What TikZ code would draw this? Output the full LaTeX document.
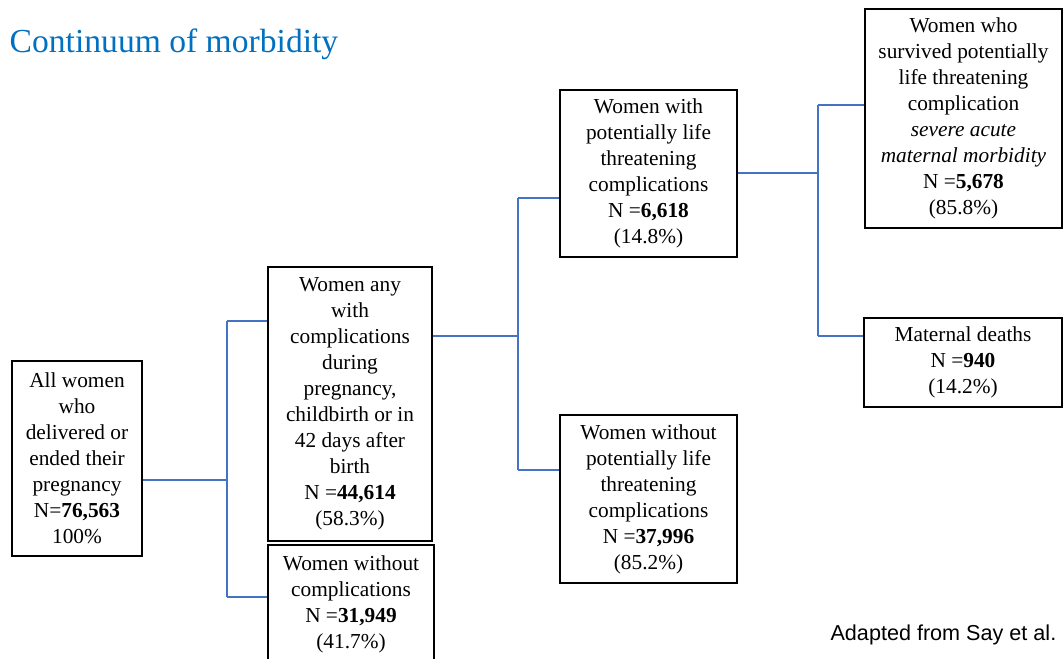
\documentclass[tikz,border=0pt]{standalone}
\usepackage{fontspec}
\setmainfont{Liberation Serif}
\newfontfamily\arialfont{Liberation Sans}
\usepackage{tikz}

\definecolor{linkblue}{RGB}{68,114,196}
\definecolor{titleblue}{RGB}{0,112,192}

\tikzset{
  box/.style={draw, line width=1.5pt, inner sep=0pt, align=center,
    font=\fontsize{16}{19.5}\selectfont},
  link/.style={linkblue, line width=1.7pt}
}

\begin{document}
\begin{tikzpicture}[x=0.75pt, y=-0.75pt]
        \useasboundingbox (0,0) rectangle (1063,658);
        \clip (0,0) rectangle (1063,658);

        % Titulo
        \node[titleblue, anchor=base west, font=\fontsize{25.2}{30}\selectfont] (title) at (5,52) {Continuum of morbidity};

        % Cajas
        \node[box, minimum width=97.5pt, minimum height=146.25pt] (all) at (77,458.5)
          {All women\\who\\delivered or\\ended their\\pregnancy\\N=\textbf{76,563}\\100\%};

        \node[box, minimum width=123pt, minimum height=205.5pt] (comp) at (350,404)
          {Women any\\with\\complications\\during\\pregnancy,\\childbirth or in\\42 days after\\birth\\N =\textbf{44,614}\\(58.3\%)};

        \node[box, minimum width=124.5pt, minimum height=88.5pt] (nocomp) at (351,604)
          {Women without\\complications\\N =\textbf{31,949}\\(41.7\%)};

        \node[box, minimum width=132.75pt, minimum height=125.25pt] (plt) at (648.5,173.5)
          {Women with\\potentially life\\threatening\\complications\\N =\textbf{6,618}\\(14.8\%)};

        \node[box, minimum width=132.75pt, minimum height=126pt] (noplt) at (648.5,499)
          {Women without\\potentially life\\threatening\\complications\\N =\textbf{37,996}\\(85.2\%)};

        \node[box, minimum width=147.75pt, minimum height=164.25pt] (sam) at (963.5,118.5)
          {Women who\\survived potentially\\life threatening\\complication\\\textit{severe acute}\\\textit{maternal morbidity}\\N =\textbf{5,678}\\(85.8\%)};

        \node[box, minimum width=148.5pt, minimum height=66.75pt] (death) at (963,362.5)
          {Maternal deaths\\N =\textbf{940}\\(14.2\%)};

        % Puntos de ramificacion
        \coordinate (s1) at (227,480);
        \coordinate (b1) at (227,321);
        \coordinate (c1) at (227,597);
        \coordinate (s2) at (518,336);
        \coordinate (b2) at (518,198);
        \coordinate (c2) at (518,470);
        \coordinate (s3) at (818,173);
        \coordinate (b3) at (818,105);
        \coordinate (c3) at (818,336);

        % Conectores
        \draw[link] (s1 -| all.east) -- (s1);
        \draw[link] (b1) -- (c1);
        \draw[link] (b1) -- (b1 -| comp.west);
        \draw[link] (c1) -- (c1 -| nocomp.west);

        \draw[link] (s2 -| comp.east) -- (s2);
        \draw[link] (b2) -- (c2);
        \draw[link] (b2) -- (b2 -| plt.west);
        \draw[link] (c2) -- (c2 -| noplt.west);

        \draw[link] (s3 -| plt.east) -- (s3);
        \draw[link] (b3) -- (c3);
        \draw[link] (b3) -- (b3 -| sam.west);
        \draw[link] (c3) -- (c3 -| death.west);

        % Fuente
        \node[anchor=base east, font=\arialfont\fontsize{16.2}{18}\selectfont] (src) at (1061,640) {Adapted from Say et al.};
\end{tikzpicture}
\end{document}
